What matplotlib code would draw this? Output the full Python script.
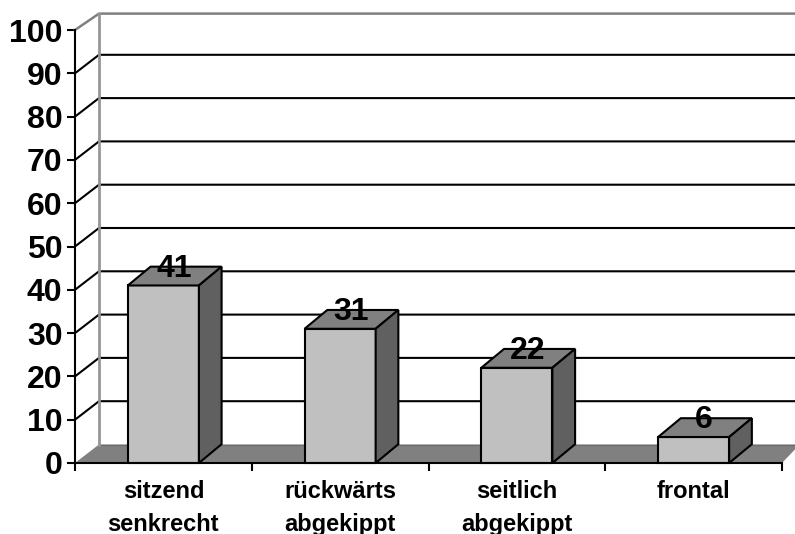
import matplotlib
matplotlib.use("Agg")
import matplotlib.pyplot as plt
from matplotlib.patches import Polygon

categories = ["sitzend\nsenkrecht", "rückwärts\nabgekippt", "seitlich\nabgekippt", "frontal"]
values = [41, 31, 22, 6]
y_ticks = list(range(0, 101, 10))

plt.rcParams["font.family"] = ["Liberation Sans", "DejaVu Sans"]

W, H = 795, 534
fig = plt.figure(figsize=(W / 100, H / 100), dpi=100)
# plot area of the front plane, in pixels
left, right, bottom, top = 75, 782, 463, 30
ax = fig.add_axes([left / W, 1 - bottom / H, (right - left) / W, (bottom - top) / H])
ax.set_xlim(0, 4)
ax.set_ylim(0, 100)
ax.patch.set_visible(False)

# depth of the fake 3d box, in data units
dx = 24 / 176.75
dy = 18.5 / 4.33
bar_w = 0.402
bar_dx = 22.7 / 176.75
bar_dy = 18.8 / 4.33
x_end = 4.1

# floor
ax.add_patch(Polygon([(0, 0), (dx, dy), (x_end, dy), (4, 0)], fc="#808080", ec="none", zorder=1, clip_on=False))
ax.plot([dx, x_end], [dy, dy], color="#6e6e6e", lw=1, zorder=1.5, clip_on=False)

# grid lines on back wall and left side
for t in y_ticks[1:-1]:
    ax.plot([0, dx, x_end], [t, t + dy, t + dy], color="black", lw=1.5, zorder=2, clip_on=False, solid_joinstyle="miter")
top_dy = 16.4 / 4.33
ax.plot([0, dx, x_end], [100, 100 + top_dy, 100 + top_dy], color="#808080", lw=1.8, zorder=2, clip_on=False)
ax.plot([dx, dx], [dy, 100 + top_dy], color="#969696", lw=2, zorder=2.5, clip_on=False)

# bars
for i, v in enumerate(values):
    x0 = i + 0.5 - bar_w / 2
    x1 = x0 + bar_w
    ax.bar(x0, v, width=bar_w, align="edge", color="#c0c0c0", edgecolor="black", linewidth=1.5, zorder=4, clip_on=False)
    ax.add_patch(Polygon([(x0, v), (x0 + bar_dx, v + bar_dy), (x1 + bar_dx, v + bar_dy), (x1, v)],
                         fc="#808080", ec="black", lw=1.5, zorder=4, joinstyle="miter", clip_on=False))
    ax.add_patch(Polygon([(x1, 0), (x1 + bar_dx, bar_dy), (x1 + bar_dx, v + bar_dy), (x1, v)],
                         fc="#606060", ec="black", lw=1.5, zorder=4, joinstyle="miter", clip_on=False))
    ax.text(i + 0.5 + 0.06, v + 3.9, str(v), ha="center", va="center", fontsize=23,
            fontweight="bold", zorder=6, clip_on=False)

for side in ["top", "right"]:
    ax.spines[side].set_visible(False)
for side in ["left", "bottom"]:
    ax.spines[side].set_linewidth(1.5)
    ax.spines[side].set_zorder(5)

ax.set_yticks(y_ticks)
ax.set_yticklabels([str(t) for t in y_ticks], fontsize=23, fontweight="bold")
ax.set_xticks(range(5))
ax.set_xticklabels([""] * 5)
ax.tick_params(axis="both", length=5.8, width=1.5, pad=3.2)

for i, c in enumerate(categories):
    ax.annotate(c, (i + 0.5, 0), xytext=(0, -12.5), textcoords="offset points", ha="center", va="top",
                fontsize=17, fontweight="bold", linespacing=1.55, annotation_clip=False)

fig.savefig("out.png", dpi=100)
